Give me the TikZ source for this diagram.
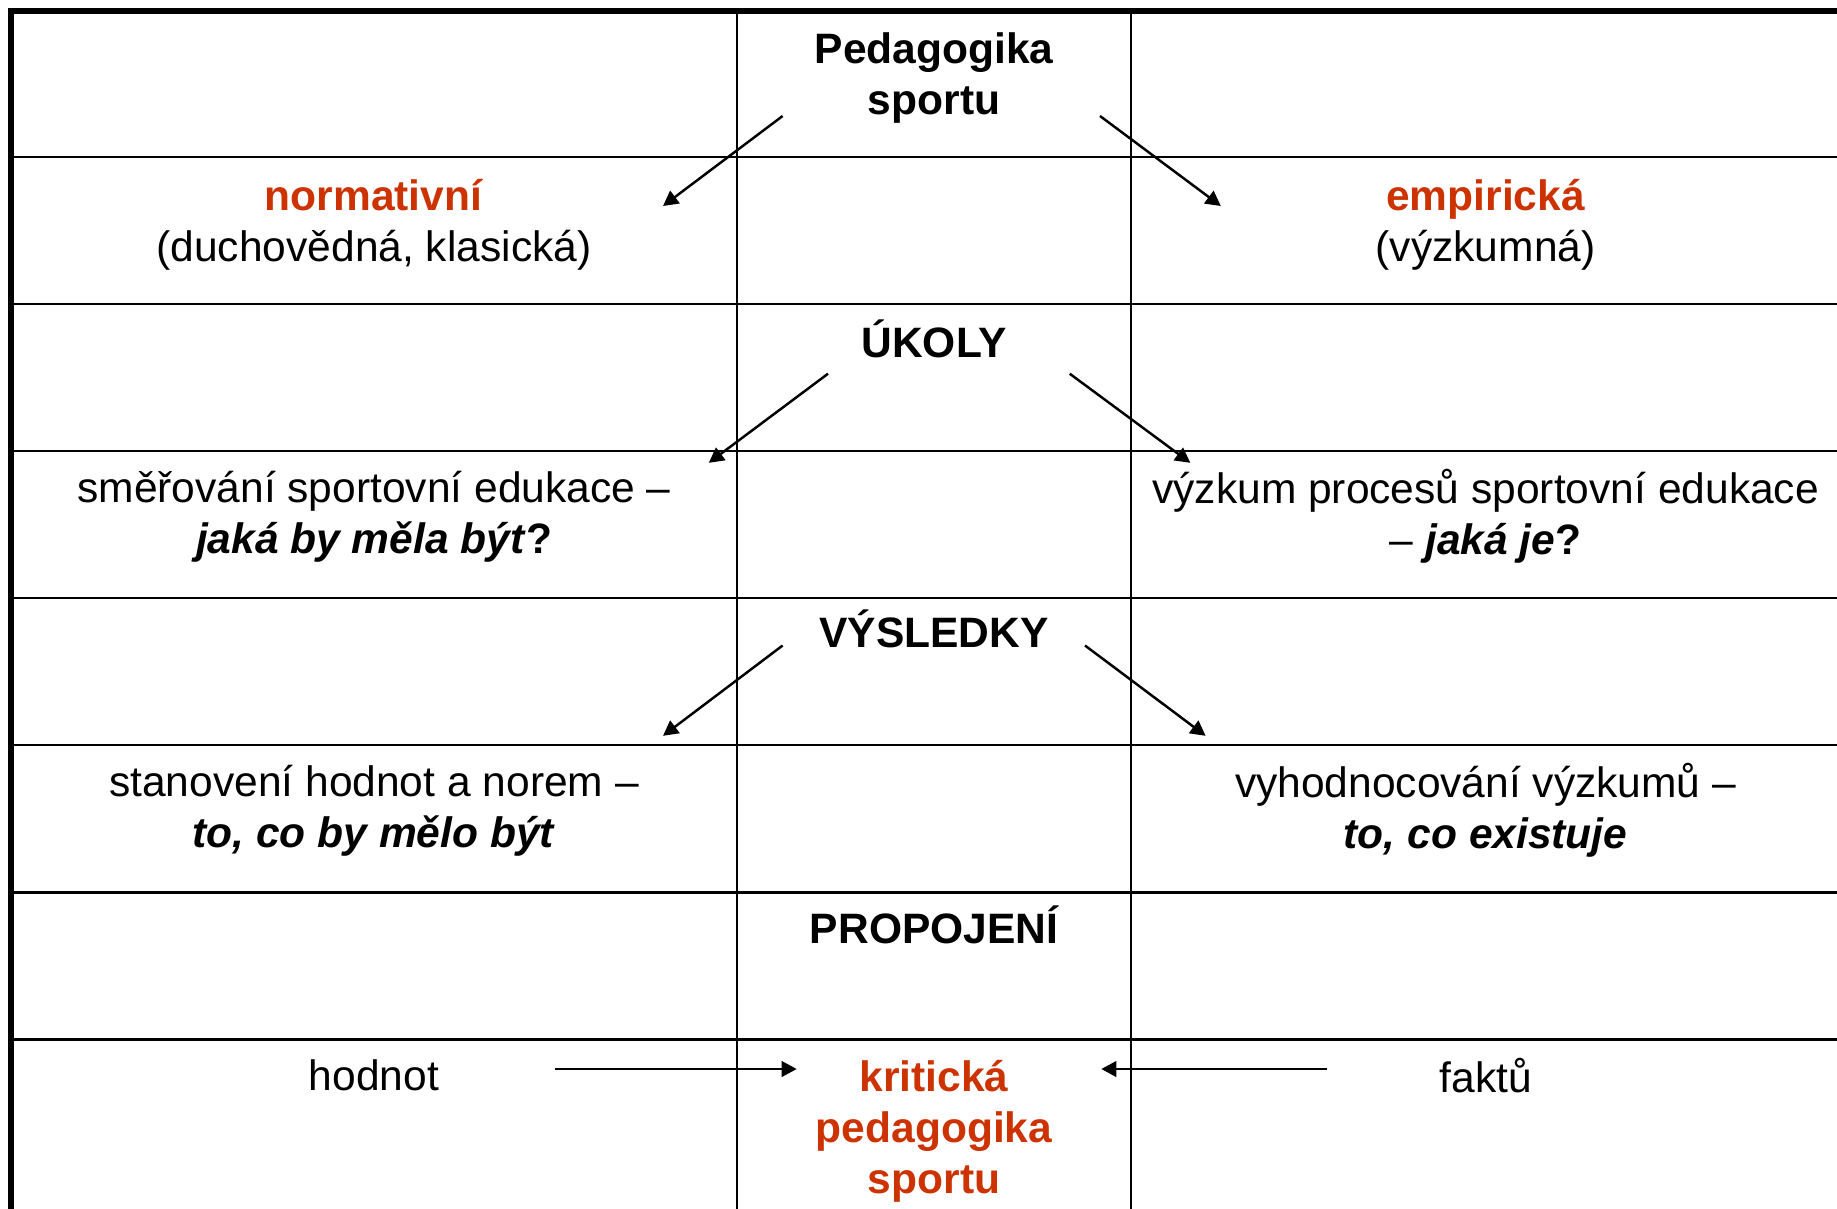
\documentclass[tikz,border=0pt]{standalone}
\usepackage{fontspec}
\setmainfont{Liberation Sans}
\usetikzlibrary{arrows.meta}
\definecolor{pedred}{RGB}{204,51,0}

\begin{document}
\begin{tikzpicture}[
    cell/.style={align=center, inner sep=0pt, font=\fontsize{12.1}{14.5}\selectfont},
    head/.style={cell, font=\fontsize{12.1}{14.5}\selectfont\bfseries},
    redhead/.style={head, text=pedred},
    grid/.style={line width=0.77pt},
    border/.style={line width=1.6pt},
    arrow/.style={-{Triangle[length=0.15cm, width=0.155cm]}, line width=0.7pt}
]

\useasboundingbox (0,0) rectangle (18.37,12.08);
\clip (0,0) rectangle (18.37,12.08);

% Table lines
\foreach \y in {10.51, 9.04, 7.569, 6.099, 4.629, 3.158, 1.688}
    \draw[grid] (0.11,\y) -- (18.5,\y);
\draw[grid] (7.37,11.97) -- (7.37,-0.5);
\draw[grid] (11.31,11.97) -- (11.31,-0.5);
\draw[border] (18.5,11.97) -- (0.11,11.97) -- (0.11,-0.5);

% Middle column
\node[head] (ped) at (9.34, 11.30) {Pedagogika\\sportu};
\node[head] (ukoly) at (9.34, 8.695) {ÚKOLY};
\node[head] (vysl) at (9.34, 5.789) {VÝSLEDKY};
\node[head] (prop) at (9.34, 2.835) {PROPOJENÍ};
\node[redhead] (krit) at (9.34, 0.765) {kritická\\pedagogika\\sportu};

% Left column
\node[cell] (norm) at (3.74, 9.833) {\textcolor{pedred}{\textbf{normativní}}\\(duchovědná, klasická)};
\node[cell] (smer) at (3.74, 6.913) {směřování sportovní edukace –\\\textbf{\textit{jaká by měla být}}\textbf{?}};
\node[cell] (stan) at (3.74, 3.973) {stanovení hodnot a norem –\\\textbf{\textit{to, co by mělo být}}};
\node[cell] (hodnot) at (3.74, 1.325) {hodnot};

% Right column
\node[cell] (emp) at (14.856, 9.833) {\textcolor{pedred}{\textbf{empirická}}\\(výzkumná)};
\node[cell] (vyzk) at (14.856, 6.913) {výzkum procesů sportovní edukace\\– \textbf{\textit{jaká je}}\textbf{?}};
\node[cell] (vyhod) at (14.856, 3.973) {vyhodnocování výzkumů –\\\textbf{\textit{to, co existuje}}};
\node[cell] (faktu) at (14.856, 1.325) {faktů};

% Arrow ends
\coordinate (ped-l) at (7.826, 10.92);
\coordinate (ped-r) at (11.00, 10.92);
\coordinate (norm-t) at (6.63, 10.02);
\coordinate (emp-t) at (12.208, 10.02);
\coordinate (ukoly-l) at (8.28, 8.343);
\coordinate (ukoly-r) at (10.697, 8.343);
\coordinate (smer-t) at (7.088, 7.452);
\coordinate (vyzk-t) at (11.903, 7.452);
\coordinate (vysl-l) at (7.826, 5.625);
\coordinate (vysl-r) at (10.85, 5.625);
\coordinate (stan-t) at (6.63, 4.722);
\coordinate (vyhod-t) at (12.056, 4.722);
\coordinate (hodnot-r) at (5.553, 1.39);
\coordinate (krit-l) at (7.967, 1.39);
\coordinate (faktu-l) at (13.274, 1.39);
\coordinate (krit-r) at (11.013, 1.39);

% Arrows
\draw[arrow] (ped-l) -- (norm-t);
\draw[arrow] (ped-r) -- (emp-t);
\draw[arrow] (ukoly-l) -- (smer-t);
\draw[arrow] (ukoly-r) -- (vyzk-t);
\draw[arrow] (vysl-l) -- (stan-t);
\draw[arrow] (vysl-r) -- (vyhod-t);
\draw[arrow] (hodnot-r) -- (krit-l);
\draw[arrow] (faktu-l) -- (krit-r);

\end{tikzpicture}
\end{document}
